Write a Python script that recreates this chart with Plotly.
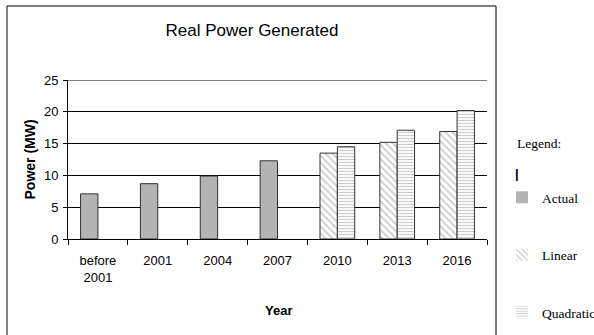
import plotly.graph_objects as go

# Categories and series values (MW)
categories = ["before<br>2001", "2001", "2004", "2007", "2010", "2013", "2016"]
actual = [7.1, 8.7, 9.9, 12.3, None, None, None]
linear = [None, None, None, None, 13.5, 15.2, 16.9]
quadratic = [None, None, None, None, 14.5, 17.1, 20.2]
y_ticks = [0, 5, 10, 15, 20, 25]

W, H = 594, 335
L, R, T, B = 68, 107, 80, 96
pw, ph = W - L - R, H - T - B

def px_x(x):
    return (x - L) / pw

def px_y(y):
    return (H - B - y) / ph

edge = "#333333"
styles = {
    "Actual": dict(color="#b3b3b3"),
    "Linear": dict(color="white",
                   pattern=dict(shape="\\", fgcolor="#9a9a9a", bgcolor="white",
                                size=5, solidity=0.35)),
    "Quadratic": dict(color="white",
                      pattern=dict(shape="-", fgcolor="#a0a0a0", bgcolor="white",
                                   size=3, solidity=0.4)),
}
series = [("Actual", actual, "a"), ("Linear", linear, "a"), ("Quadratic", quadratic, "b")]

fig = go.Figure()
# Outlined bars (legend entries are drawn by borderless proxies below)
for name, vals, grp in series:
    fig.add_trace(go.Bar(
        x=categories, y=vals, name=name, offsetgroup=grp, showlegend=False,
        marker=dict(**styles[name], line=dict(color=edge, width=1)),
    ))
for i, (name, vals, grp) in enumerate(series):
    fig.add_trace(go.Bar(
        x=[categories[0]], y=[None], name=name, offsetgroup=grp,
        legendgroup=str(i), marker=dict(**styles[name], line=dict(width=0)),
    ))

sans = "Liberation Sans, Arial, sans-serif"
serif = "Liberation Serif, Times New Roman, serif"

fig.update_layout(
    width=W, height=H,
    margin=dict(l=L, r=R, t=T, b=B, autoexpand=False),
    paper_bgcolor="white", plot_bgcolor="white",
    barmode="group", bargap=0.42, bargroupgap=0,
    title=dict(text="Real Power Generated", x=252 / W, xanchor="center",
               y=1 - 30 / H, yanchor="middle",
               font=dict(family=sans, size=17, color="black")),
    xaxis=dict(
        type="category", tickson="boundaries", ticks="outside", ticklen=5,
        tickcolor="black", showline=True, linecolor="black", linewidth=1,
        showgrid=False, tickfont=dict(family=sans, size=13, color="black"),
        range=[-0.5, 6.5], automargin=False, ticklabelstandoff=9,
    ),
    yaxis=dict(
        range=[0, 25], tickvals=y_ticks, ticks="outside", ticklen=4,
        tickcolor="black", showline=True, linecolor="black", linewidth=1,
        showgrid=True, gridcolor="black", gridwidth=1, zeroline=False,
        tickfont=dict(family=sans, size=13, color="black"), automargin=False,
        ticklabelstandoff=2,
    ),
    legend=dict(
        x=px_x(502), xanchor="left", y=px_y(182), yanchor="top",
        font=dict(family=serif, size=13.5, color="black"),
        tracegroupgap=37, bgcolor="rgba(0,0,0,0)", itemwidth=30,
    ),
    showlegend=True,
)

# Top gridline (plotly skips grid lines lying on the plot edge)
fig.add_shape(type="line", xref="x domain", yref="y", x0=0, x1=1,
              y0=y_ticks[-1], y1=y_ticks[-1],
              line=dict(color="black", width=1), layer="below")

fig.add_annotation(text="<b>Power (MW)</b>", textangle=-90, x=px_x(29), y=0.5,
                   xanchor="center", yanchor="middle",
                   xref="paper", yref="paper", showarrow=False,
                   font=dict(family=sans, size=14, color="black"))
fig.add_annotation(text="<b>Year</b>", x=px_x(278), y=px_y(310),
                   xanchor="center", yanchor="middle",
                   xref="paper", yref="paper", showarrow=False,
                   font=dict(family=sans, size=13, color="black"))
fig.add_annotation(text="Legend:", x=px_x(515), y=px_y(143), xanchor="left",
                   yanchor="middle",
                   xref="paper", yref="paper", showarrow=False,
                   font=dict(family=serif, size=13.5, color="black"))
fig.add_annotation(text="<b>|</b>", x=px_x(513), y=px_y(173), xanchor="left",
                   yanchor="middle",
                   xref="paper", yref="paper", showarrow=False,
                   font=dict(family=sans, size=13, color="black"))

# Outer chart frame
fig.add_shape(type="rect", xref="paper", yref="paper",
              x0=px_x(7), x1=px_x(496), y0=px_y(345), y1=px_y(6),
              line=dict(color="black", width=1), fillcolor="rgba(0,0,0,0)",
              layer="below")

fig.write_html("out.html")
